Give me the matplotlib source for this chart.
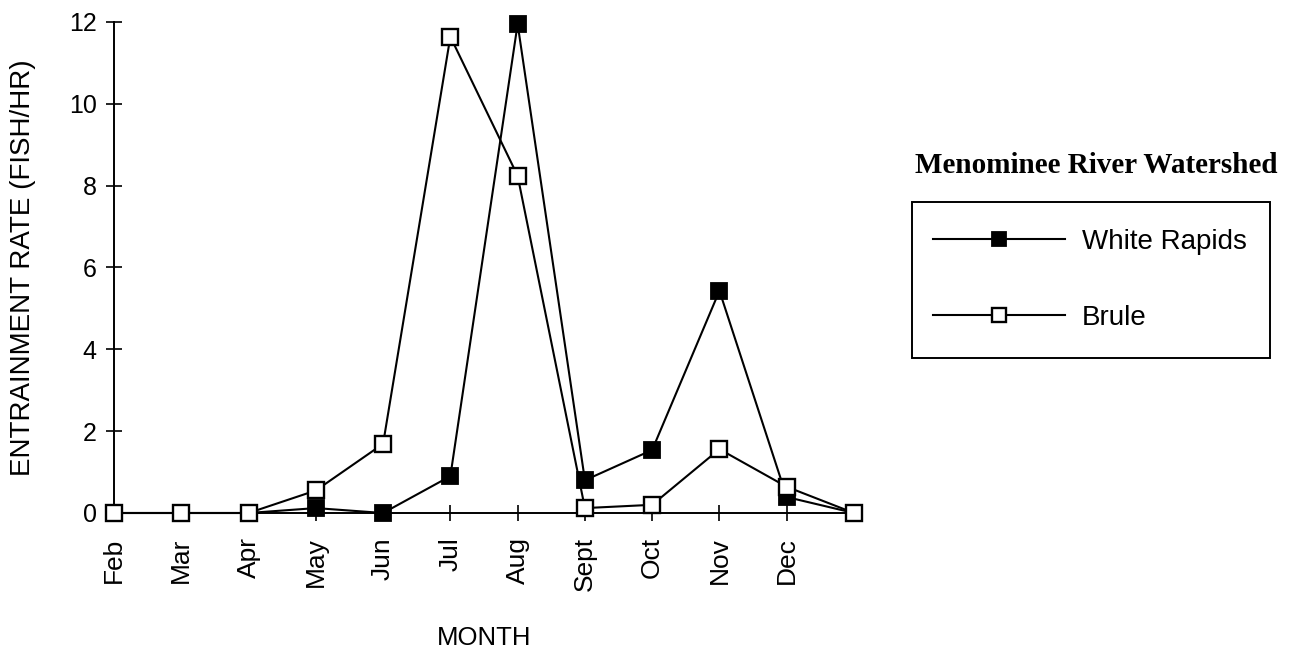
import matplotlib.pyplot as plt
from matplotlib.patches import Rectangle

plt.rcParams['font.family'] = ['Liberation Sans', 'DejaVu Sans']

months = ['Feb', 'Mar', 'Apr', 'May', 'Jun', 'Jul', 'Aug', 'Sept', 'Oct', 'Nov', 'Dec', '']
white_rapids = [0, 0, 0, 0.12, 0, 0.9, 11.95, 0.8, 1.54, 5.43, 0.39, 0]
brule = [0, 0, 0, 0.55, 1.69, 11.64, 8.24, 0.12, 0.2, 1.56, 0.64, 0]

fig = plt.figure(figsize=(13.03, 6.54), dpi=100)
ax = fig.add_axes([0.0875, 0.2156, 0.5679, 0.7508])

x = list(range(len(months)))
ax.plot(x, white_rapids, color='black', lw=1.5, marker='s', ms=11.5,
        mfc='black', mec='black', mew=1.3, clip_on=False, zorder=3, label='White Rapids')
ax.plot(x, brule, color='black', lw=1.5, marker='s', ms=11.5,
        mfc='white', mec='black', mew=1.7, clip_on=False, zorder=4, label='Brule')

ax.set_xlim(0, 11)
ax.set_ylim(0, 12)
ax.set_xticks(x)
ax.set_xticklabels(months, rotation=90, fontsize=19)
ax.set_yticks(range(0, 13, 2))
ax.tick_params(axis='y', labelsize=18, direction='inout', length=11, width=1.2, pad=7)
ax.tick_params(axis='x', direction='inout', length=11, width=1.2, pad=12)
for s in ['top', 'right']:
    ax.spines[s].set_visible(False)
for s in ['left', 'bottom']:
    ax.spines[s].set_linewidth(1.4)

ax.set_ylabel('ENTRAINMENT RATE (FISH/HR)', fontsize=20, va='center')
ax.yaxis.set_label_coords(-0.123, 0.5)
ax.set_xlabel('MONTH', fontsize=18.5)
ax.xaxis.set_label_coords(0.5, -0.255)
ax.xaxis.label.set_va('center')

# legend box and title on the right
fig.text(0.8415, 0.7477, 'Menominee River Watershed', ha='center', va='center',
         fontsize=21, fontweight='bold', family='Liberation Serif')
fig.patches.append(Rectangle((0.700, 0.4526), 0.2748, 0.2385, transform=fig.transFigure,
                             fill=False, lw=1.4, ec='black'))
h, l = ax.get_legend_handles_labels()
fig.legend(h, l, loc='center left', bbox_to_anchor=(933 / 1303, (654 - 280) / 654),
           frameon=False, fontsize=20, handlelength=4.75, handletextpad=0.6,
           labelspacing=1.8, borderpad=0, borderaxespad=0, markerscale=0.85)

fig.savefig('out.png', dpi=100)
